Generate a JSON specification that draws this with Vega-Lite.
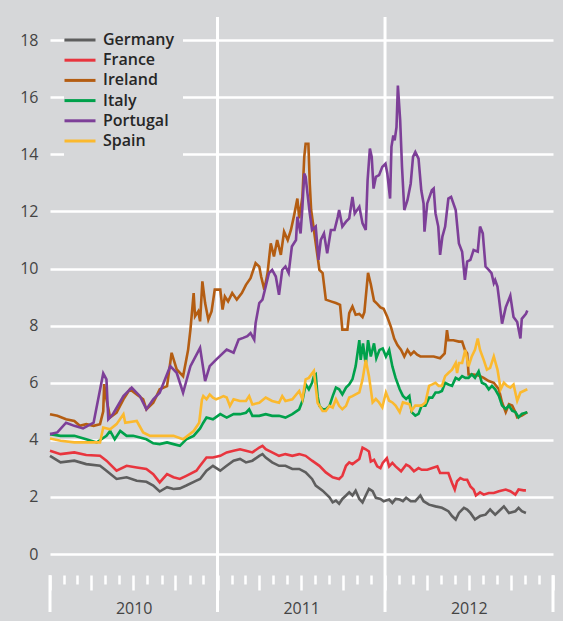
{
  "$schema": "https://vega.github.io/schema/vega-lite/v6.json",
  "width": 503,
  "height": 595,
  "autosize": {"type": "none"},
  "padding": {"left": 50, "top": 17, "right": 10, "bottom": 9},
  "background": "#d6d7d9",
  "config": {"view": {"stroke": null}, "font": "Open Sans"},
  "encoding": {
    "x": {
      "field": "date",
      "type": "temporal",
      "scale": {"type": "utc", "domain": [{"year": 2010, "month": 1, "date": 1, "utc": true}, {"year": 2013, "month": 1, "date": 1, "utc": true}]},
      "axis": {
        "orient": "bottom",
        "offset": -37,
        "domain": false,
        "grid": false,
        "tickCount": {"interval": "month", "step": 1},
        "tickColor": "white",
        "tickWidth": 2.5,
        "tickSize": {"condition": {"test": "utcmonth(datum.value) % 3 == 0", "value": 15}, "value": 9},
        "labelExpr": "utcmonth(datum.value) == 0 && utcyear(datum.value) < 2013 ? utcFormat(datum.value, '%Y') : ''",
        "labelOffset": 83.7,
        "labelAlign": "center",
        "labelBaseline": "top",
        "labelPadding": 10,
        "labelFontSize": 16,
        "labelColor": "#444444",
        "labelOverlap": false,
        "labelFlush": false,
        "labelBound": false,
        "title": null
      }
    }
  },
  "layer": [
    {
      "data": {"values": [{"date": "2011-01-01"}, {"date": "2012-01-01"}]},
      "mark": {"type": "rule", "color": "white", "strokeWidth": 3},
      "encoding": {}
    },
    {
      "data": {"values": [{"date": "2010-01-01"}, {"date": "2013-01-01"}]},
      "mark": {"type": "rule", "color": "white", "strokeWidth": 3},
      "encoding": {
        "y": {"datum": -0.74, "type": "quantitative"},
        "y2": {"datum": -2.03}
      }
    },
    {
      "data": {"values": [
{"country":"Germany","date":"2010-01-01","yield":3.44},{"country":"Germany","date":"2010-01-24","yield":3.21},{"country":"Germany","date":"2010-02-23","yield":3.27},{"country":"Germany","date":"2010-03-21","yield":3.15},{"country":"Germany","date":"2010-04-20","yield":3.09},{"country":"Germany","date":"2010-05-04","yield":2.92},{"country":"Germany","date":"2010-05-26","yield":2.63},{"country":"Germany","date":"2010-06-17","yield":2.69},{"country":"Germany","date":"2010-07-09","yield":2.57},{"country":"Germany","date":"2010-07-30","yield":2.53},{"country":"Germany","date":"2010-08-14","yield":2.40},{"country":"Germany","date":"2010-08-28","yield":2.19},{"country":"Germany","date":"2010-09-13","yield":2.34},{"country":"Germany","date":"2010-09-27","yield":2.28},{"country":"Germany","date":"2010-10-11","yield":2.30},{"country":"Germany","date":"2010-10-25","yield":2.40},{"country":"Germany","date":"2010-11-16","yield":2.57},{"country":"Germany","date":"2010-11-24","yield":2.63},{"country":"Germany","date":"2010-12-08","yield":2.92},{"country":"Germany","date":"2010-12-22","yield":3.09},{"country":"Germany","date":"2011-01-07","yield":2.92},{"country":"Germany","date":"2011-01-21","yield":3.09},{"country":"Germany","date":"2011-02-05","yield":3.27},{"country":"Germany","date":"2011-02-19","yield":3.33},{"country":"Germany","date":"2011-03-04","yield":3.21},{"country":"Germany","date":"2011-03-18","yield":3.27},{"country":"Germany","date":"2011-04-02","yield":3.44},{"country":"Germany","date":"2011-04-09","yield":3.50},{"country":"Germany","date":"2011-04-16","yield":3.38},{"country":"Germany","date":"2011-04-30","yield":3.21},{"country":"Germany","date":"2011-05-15","yield":3.09},{"country":"Germany","date":"2011-05-29","yield":3.09},{"country":"Germany","date":"2011-06-13","yield":2.98},{"country":"Germany","date":"2011-06-28","yield":2.98},{"country":"Germany","date":"2011-07-12","yield":2.86},{"country":"Germany","date":"2011-07-26","yield":2.63},{"country":"Germany","date":"2011-08-03","yield":2.40},{"country":"Germany","date":"2011-08-18","yield":2.22},{"country":"Germany","date":"2011-09-02","yield":1.99},{"country":"Germany","date":"2011-09-09","yield":1.81},{"country":"Germany","date":"2011-09-16","yield":1.87},{"country":"Germany","date":"2011-09-23","yield":1.76},{"country":"Germany","date":"2011-09-30","yield":1.93},{"country":"Germany","date":"2011-10-08","yield":2.05},{"country":"Germany","date":"2011-10-15","yield":2.16},{"country":"Germany","date":"2011-10-22","yield":2.05},{"country":"Germany","date":"2011-10-29","yield":2.22},{"country":"Germany","date":"2011-11-06","yield":1.93},{"country":"Germany","date":"2011-11-13","yield":1.81},{"country":"Germany","date":"2011-11-20","yield":2.05},{"country":"Germany","date":"2011-11-27","yield":2.28},{"country":"Germany","date":"2011-12-05","yield":2.20},{"country":"Germany","date":"2011-12-12","yield":1.97},{"country":"Germany","date":"2011-12-22","yield":1.93},{"country":"Germany","date":"2011-12-29","yield":1.85},{"country":"Germany","date":"2012-01-10","yield":1.91},{"country":"Germany","date":"2012-01-17","yield":1.79},{"country":"Germany","date":"2012-01-24","yield":1.93},{"country":"Germany","date":"2012-02-02","yield":1.91},{"country":"Germany","date":"2012-02-09","yield":1.85},{"country":"Germany","date":"2012-02-16","yield":1.97},{"country":"Germany","date":"2012-02-26","yield":1.85},{"country":"Germany","date":"2012-03-07","yield":1.85},{"country":"Germany","date":"2012-03-18","yield":2.05},{"country":"Germany","date":"2012-03-25","yield":1.85},{"country":"Germany","date":"2012-04-06","yield":1.73},{"country":"Germany","date":"2012-04-20","yield":1.67},{"country":"Germany","date":"2012-05-04","yield":1.62},{"country":"Germany","date":"2012-05-18","yield":1.50},{"country":"Germany","date":"2012-05-26","yield":1.33},{"country":"Germany","date":"2012-06-03","yield":1.21},{"country":"Germany","date":"2012-06-10","yield":1.44},{"country":"Germany","date":"2012-06-21","yield":1.62},{"country":"Germany","date":"2012-06-28","yield":1.56},{"country":"Germany","date":"2012-07-05","yield":1.44},{"country":"Germany","date":"2012-07-15","yield":1.21},{"country":"Germany","date":"2012-07-26","yield":1.33},{"country":"Germany","date":"2012-08-07","yield":1.38},{"country":"Germany","date":"2012-08-17","yield":1.56},{"country":"Germany","date":"2012-08-28","yield":1.38},{"country":"Germany","date":"2012-09-05","yield":1.50},{"country":"Germany","date":"2012-09-16","yield":1.67},{"country":"Germany","date":"2012-09-27","yield":1.44},{"country":"Germany","date":"2012-10-11","yield":1.50},{"country":"Germany","date":"2012-10-18","yield":1.62},{"country":"Germany","date":"2012-10-25","yield":1.50},{"country":"Germany","date":"2012-11-03","yield":1.44},
{"country":"France","date":"2010-01-01","yield":3.62},{"country":"France","date":"2010-01-24","yield":3.50},{"country":"France","date":"2010-02-23","yield":3.56},{"country":"France","date":"2010-03-21","yield":3.47},{"country":"France","date":"2010-04-20","yield":3.44},{"country":"France","date":"2010-05-04","yield":3.27},{"country":"France","date":"2010-05-26","yield":2.92},{"country":"France","date":"2010-06-17","yield":3.09},{"country":"France","date":"2010-07-09","yield":3.03},{"country":"France","date":"2010-07-30","yield":2.98},{"country":"France","date":"2010-08-14","yield":2.80},{"country":"France","date":"2010-08-28","yield":2.51},{"country":"France","date":"2010-09-13","yield":2.80},{"country":"France","date":"2010-09-27","yield":2.69},{"country":"France","date":"2010-10-11","yield":2.63},{"country":"France","date":"2010-10-25","yield":2.74},{"country":"France","date":"2010-11-16","yield":2.92},{"country":"France","date":"2010-11-24","yield":3.09},{"country":"France","date":"2010-12-08","yield":3.38},{"country":"France","date":"2010-12-22","yield":3.38},{"country":"France","date":"2011-01-07","yield":3.44},{"country":"France","date":"2011-01-21","yield":3.56},{"country":"France","date":"2011-02-05","yield":3.62},{"country":"France","date":"2011-02-19","yield":3.67},{"country":"France","date":"2011-03-04","yield":3.62},{"country":"France","date":"2011-03-18","yield":3.56},{"country":"France","date":"2011-04-02","yield":3.73},{"country":"France","date":"2011-04-09","yield":3.79},{"country":"France","date":"2011-04-16","yield":3.67},{"country":"France","date":"2011-04-30","yield":3.56},{"country":"France","date":"2011-05-15","yield":3.44},{"country":"France","date":"2011-05-29","yield":3.50},{"country":"France","date":"2011-06-13","yield":3.44},{"country":"France","date":"2011-06-28","yield":3.50},{"country":"France","date":"2011-07-12","yield":3.44},{"country":"France","date":"2011-07-26","yield":3.27},{"country":"France","date":"2011-08-11","yield":3.09},{"country":"France","date":"2011-08-25","yield":2.86},{"country":"France","date":"2011-09-09","yield":2.69},{"country":"France","date":"2011-09-23","yield":2.63},{"country":"France","date":"2011-09-30","yield":2.74},{"country":"France","date":"2011-10-08","yield":3.09},{"country":"France","date":"2011-10-15","yield":3.21},{"country":"France","date":"2011-10-22","yield":3.15},{"country":"France","date":"2011-11-06","yield":3.33},{"country":"France","date":"2011-11-13","yield":3.73},{"country":"France","date":"2011-11-20","yield":3.67},{"country":"France","date":"2011-11-27","yield":3.59},{"country":"France","date":"2011-12-01","yield":3.24},{"country":"France","date":"2011-12-08","yield":3.30},{"country":"France","date":"2011-12-15","yield":3.07},{"country":"France","date":"2011-12-22","yield":3.01},{"country":"France","date":"2011-12-27","yield":3.19},{"country":"France","date":"2012-01-05","yield":3.36},{"country":"France","date":"2012-01-10","yield":3.07},{"country":"France","date":"2012-01-17","yield":3.19},{"country":"France","date":"2012-01-24","yield":3.07},{"country":"France","date":"2012-02-05","yield":2.90},{"country":"France","date":"2012-02-16","yield":3.13},{"country":"France","date":"2012-02-23","yield":3.07},{"country":"France","date":"2012-03-04","yield":2.90},{"country":"France","date":"2012-03-14","yield":3.01},{"country":"France","date":"2012-03-21","yield":2.95},{"country":"France","date":"2012-04-02","yield":2.95},{"country":"France","date":"2012-04-13","yield":3.01},{"country":"France","date":"2012-04-24","yield":3.07},{"country":"France","date":"2012-04-30","yield":2.84},{"country":"France","date":"2012-05-11","yield":2.84},{"country":"France","date":"2012-05-18","yield":2.84},{"country":"France","date":"2012-05-26","yield":2.49},{"country":"France","date":"2012-06-01","yield":2.26},{"country":"France","date":"2012-06-06","yield":2.55},{"country":"France","date":"2012-06-13","yield":2.66},{"country":"France","date":"2012-06-21","yield":2.60},{"country":"France","date":"2012-06-28","yield":2.60},{"country":"France","date":"2012-07-05","yield":2.37},{"country":"France","date":"2012-07-12","yield":2.26},{"country":"France","date":"2012-07-17","yield":2.05},{"country":"France","date":"2012-07-26","yield":2.16},{"country":"France","date":"2012-08-03","yield":2.08},{"country":"France","date":"2012-08-14","yield":2.14},{"country":"France","date":"2012-08-25","yield":2.14},{"country":"France","date":"2012-09-05","yield":2.20},{"country":"France","date":"2012-09-20","yield":2.26},{"country":"France","date":"2012-09-30","yield":2.20},{"country":"France","date":"2012-10-11","yield":2.08},{"country":"France","date":"2012-10-18","yield":2.26},{"country":"France","date":"2012-10-29","yield":2.23},{"country":"France","date":"2012-11-03","yield":2.23},
{"country":"Ireland","date":"2010-01-01","yield":4.90},{"country":"Ireland","date":"2010-01-17","yield":4.84},{"country":"Ireland","date":"2010-02-05","yield":4.72},{"country":"Ireland","date":"2010-02-23","yield":4.66},{"country":"Ireland","date":"2010-03-07","yield":4.49},{"country":"Ireland","date":"2010-03-21","yield":4.55},{"country":"Ireland","date":"2010-04-06","yield":4.49},{"country":"Ireland","date":"2010-04-20","yield":4.55},{"country":"Ireland","date":"2010-04-27","yield":5.00},{"country":"Ireland","date":"2010-04-29","yield":5.95},{"country":"Ireland","date":"2010-05-04","yield":5.42},{"country":"Ireland","date":"2010-05-12","yield":4.78},{"country":"Ireland","date":"2010-05-26","yield":4.95},{"country":"Ireland","date":"2010-06-10","yield":5.42},{"country":"Ireland","date":"2010-06-24","yield":5.77},{"country":"Ireland","date":"2010-07-09","yield":5.59},{"country":"Ireland","date":"2010-07-23","yield":5.42},{"country":"Ireland","date":"2010-07-30","yield":5.07},{"country":"Ireland","date":"2010-08-14","yield":5.30},{"country":"Ireland","date":"2010-08-21","yield":5.53},{"country":"Ireland","date":"2010-08-28","yield":5.77},{"country":"Ireland","date":"2010-09-13","yield":5.88},{"country":"Ireland","date":"2010-09-23","yield":7.05},{"country":"Ireland","date":"2010-10-04","yield":6.47},{"country":"Ireland","date":"2010-10-18","yield":6.23},{"country":"Ireland","date":"2010-10-25","yield":6.81},{"country":"Ireland","date":"2010-10-29","yield":7.16},{"country":"Ireland","date":"2010-11-03","yield":7.86},{"country":"Ireland","date":"2010-11-10","yield":9.14},{"country":"Ireland","date":"2010-11-13","yield":8.33},{"country":"Ireland","date":"2010-11-20","yield":8.50},{"country":"Ireland","date":"2010-11-24","yield":8.15},{"country":"Ireland","date":"2010-11-29","yield":9.55},{"country":"Ireland","date":"2010-12-05","yield":8.79},{"country":"Ireland","date":"2010-12-12","yield":8.21},{"country":"Ireland","date":"2010-12-19","yield":8.50},{"country":"Ireland","date":"2010-12-26","yield":9.26},{"country":"Ireland","date":"2011-01-07","yield":9.26},{"country":"Ireland","date":"2011-01-12","yield":8.56},{"country":"Ireland","date":"2011-01-17","yield":9.02},{"country":"Ireland","date":"2011-01-24","yield":8.85},{"country":"Ireland","date":"2011-02-02","yield":9.14},{"country":"Ireland","date":"2011-02-12","yield":8.91},{"country":"Ireland","date":"2011-02-23","yield":9.14},{"country":"Ireland","date":"2011-03-04","yield":9.43},{"country":"Ireland","date":"2011-03-14","yield":9.66},{"country":"Ireland","date":"2011-03-25","yield":10.19},{"country":"Ireland","date":"2011-04-02","yield":10.07},{"country":"Ireland","date":"2011-04-06","yield":9.72},{"country":"Ireland","date":"2011-04-13","yield":9.26},{"country":"Ireland","date":"2011-04-20","yield":9.84},{"country":"Ireland","date":"2011-04-27","yield":10.88},{"country":"Ireland","date":"2011-05-04","yield":10.42},{"country":"Ireland","date":"2011-05-11","yield":11.00},{"country":"Ireland","date":"2011-05-19","yield":10.48},{"country":"Ireland","date":"2011-05-26","yield":11.29},{"country":"Ireland","date":"2011-06-03","yield":11.00},{"country":"Ireland","date":"2011-06-10","yield":11.35},{"country":"Ireland","date":"2011-06-17","yield":11.87},{"country":"Ireland","date":"2011-06-24","yield":12.45},{"country":"Ireland","date":"2011-06-28","yield":11.76},{"country":"Ireland","date":"2011-07-05","yield":12.51},{"country":"Ireland","date":"2011-07-09","yield":13.91},{"country":"Ireland","date":"2011-07-12","yield":14.37},{"country":"Ireland","date":"2011-07-18","yield":14.37},{"country":"Ireland","date":"2011-07-21","yield":12.98},{"country":"Ireland","date":"2011-07-24","yield":12.05},{"country":"Ireland","date":"2011-07-30","yield":11.35},{"country":"Ireland","date":"2011-08-07","yield":10.42},{"country":"Ireland","date":"2011-08-11","yield":9.95},{"country":"Ireland","date":"2011-08-18","yield":9.84},{"country":"Ireland","date":"2011-08-25","yield":8.91},{"country":"Ireland","date":"2011-09-05","yield":8.85},{"country":"Ireland","date":"2011-09-16","yield":8.79},{"country":"Ireland","date":"2011-09-25","yield":8.73},{"country":"Ireland","date":"2011-09-30","yield":7.86},{"country":"Ireland","date":"2011-10-11","yield":7.86},{"country":"Ireland","date":"2011-10-15","yield":8.44},{"country":"Ireland","date":"2011-10-22","yield":8.67},{"country":"Ireland","date":"2011-10-29","yield":8.38},{"country":"Ireland","date":"2011-11-06","yield":8.41},{"country":"Ireland","date":"2011-11-13","yield":8.30},{"country":"Ireland","date":"2011-11-17","yield":8.47},{"country":"Ireland","date":"2011-11-20","yield":8.99},{"country":"Ireland","date":"2011-11-25","yield":9.85},{"country":"Ireland","date":"2011-12-01","yield":9.45},{"country":"Ireland","date":"2011-12-08","yield":8.87},{"country":"Ireland","date":"2011-12-15","yield":8.76},{"country":"Ireland","date":"2011-12-22","yield":8.64},{"country":"Ireland","date":"2011-12-29","yield":8.59},{"country":"Ireland","date":"2012-01-06","yield":8.30},{"country":"Ireland","date":"2012-01-14","yield":7.95},{"country":"Ireland","date":"2012-01-21","yield":7.55},{"country":"Ireland","date":"2012-01-28","yield":7.32},{"country":"Ireland","date":"2012-02-05","yield":7.15},{"country":"Ireland","date":"2012-02-12","yield":6.92},{"country":"Ireland","date":"2012-02-19","yield":7.15},{"country":"Ireland","date":"2012-02-26","yield":6.98},{"country":"Ireland","date":"2012-03-04","yield":7.09},{"country":"Ireland","date":"2012-03-11","yield":6.98},{"country":"Ireland","date":"2012-03-18","yield":6.92},{"country":"Ireland","date":"2012-03-25","yield":6.92},{"country":"Ireland","date":"2012-04-06","yield":6.92},{"country":"Ireland","date":"2012-04-16","yield":6.92},{"country":"Ireland","date":"2012-04-30","yield":6.86},{"country":"Ireland","date":"2012-05-10","yield":7.03},{"country":"Ireland","date":"2012-05-15","yield":7.84},{"country":"Ireland","date":"2012-05-18","yield":7.49},{"country":"Ireland","date":"2012-05-29","yield":7.49},{"country":"Ireland","date":"2012-06-10","yield":7.44},{"country":"Ireland","date":"2012-06-17","yield":7.44},{"country":"Ireland","date":"2012-06-23","yield":7.15},{"country":"Ireland","date":"2012-06-28","yield":7.03},{"country":"Ireland","date":"2012-07-01","yield":6.29},{"country":"Ireland","date":"2012-07-12","yield":6.29},{"country":"Ireland","date":"2012-07-23","yield":6.25},{"country":"Ireland","date":"2012-08-03","yield":6.17},{"country":"Ireland","date":"2012-08-14","yield":6.06},{"country":"Ireland","date":"2012-08-25","yield":6.00},{"country":"Ireland","date":"2012-09-05","yield":5.77},{"country":"Ireland","date":"2012-09-12","yield":5.31},{"country":"Ireland","date":"2012-09-20","yield":4.97},{"country":"Ireland","date":"2012-09-27","yield":5.25},{"country":"Ireland","date":"2012-10-04","yield":5.20},{"country":"Ireland","date":"2012-10-11","yield":4.97},{"country":"Ireland","date":"2012-10-15","yield":4.79},{"country":"Ireland","date":"2012-10-25","yield":4.85},{"country":"Ireland","date":"2012-11-06","yield":4.97},
{"country":"Italy","date":"2010-01-01","yield":4.20},{"country":"Italy","date":"2010-01-24","yield":4.14},{"country":"Italy","date":"2010-02-23","yield":4.14},{"country":"Italy","date":"2010-03-21","yield":4.02},{"country":"Italy","date":"2010-04-13","yield":3.91},{"country":"Italy","date":"2010-04-23","yield":4.02},{"country":"Italy","date":"2010-05-04","yield":4.14},{"country":"Italy","date":"2010-05-12","yield":4.31},{"country":"Italy","date":"2010-05-22","yield":4.02},{"country":"Italy","date":"2010-06-03","yield":4.31},{"country":"Italy","date":"2010-06-17","yield":4.14},{"country":"Italy","date":"2010-07-01","yield":4.14},{"country":"Italy","date":"2010-07-16","yield":4.08},{"country":"Italy","date":"2010-07-30","yield":4.02},{"country":"Italy","date":"2010-08-14","yield":3.88},{"country":"Italy","date":"2010-08-28","yield":3.85},{"country":"Italy","date":"2010-09-13","yield":3.91},{"country":"Italy","date":"2010-09-27","yield":3.85},{"country":"Italy","date":"2010-10-11","yield":3.79},{"country":"Italy","date":"2010-10-25","yield":4.02},{"country":"Italy","date":"2010-11-10","yield":4.14},{"country":"Italy","date":"2010-11-24","yield":4.40},{"country":"Italy","date":"2010-12-01","yield":4.60},{"country":"Italy","date":"2010-12-08","yield":4.78},{"country":"Italy","date":"2010-12-22","yield":4.72},{"country":"Italy","date":"2011-01-07","yield":4.90},{"country":"Italy","date":"2011-01-21","yield":4.78},{"country":"Italy","date":"2011-02-05","yield":4.90},{"country":"Italy","date":"2011-02-19","yield":4.90},{"country":"Italy","date":"2011-03-04","yield":4.95},{"country":"Italy","date":"2011-03-11","yield":5.07},{"country":"Italy","date":"2011-03-18","yield":4.84},{"country":"Italy","date":"2011-04-02","yield":4.84},{"country":"Italy","date":"2011-04-16","yield":4.90},{"country":"Italy","date":"2011-04-30","yield":4.84},{"country":"Italy","date":"2011-05-15","yield":4.84},{"country":"Italy","date":"2011-05-29","yield":4.78},{"country":"Italy","date":"2011-06-13","yield":4.90},{"country":"Italy","date":"2011-06-28","yield":5.07},{"country":"Italy","date":"2011-07-05","yield":5.36},{"country":"Italy","date":"2011-07-12","yield":5.94},{"country":"Italy","date":"2011-07-19","yield":5.77},{"country":"Italy","date":"2011-07-26","yield":6.00},{"country":"Italy","date":"2011-07-30","yield":6.23},{"country":"Italy","date":"2011-08-03","yield":6.29},{"country":"Italy","date":"2011-08-07","yield":5.53},{"country":"Italy","date":"2011-08-11","yield":5.19},{"country":"Italy","date":"2011-08-18","yield":5.07},{"country":"Italy","date":"2011-08-25","yield":5.07},{"country":"Italy","date":"2011-09-02","yield":5.19},{"country":"Italy","date":"2011-09-09","yield":5.53},{"country":"Italy","date":"2011-09-16","yield":5.83},{"country":"Italy","date":"2011-09-23","yield":5.77},{"country":"Italy","date":"2011-09-30","yield":5.59},{"country":"Italy","date":"2011-10-08","yield":5.83},{"country":"Italy","date":"2011-10-15","yield":5.94},{"country":"Italy","date":"2011-10-22","yield":6.12},{"country":"Italy","date":"2011-10-29","yield":6.58},{"country":"Italy","date":"2011-11-06","yield":7.49},{"country":"Italy","date":"2011-11-09","yield":6.80},{"country":"Italy","date":"2011-11-14","yield":7.38},{"country":"Italy","date":"2011-11-20","yield":6.63},{"country":"Italy","date":"2011-11-25","yield":7.49},{"country":"Italy","date":"2011-12-01","yield":6.92},{"country":"Italy","date":"2011-12-08","yield":7.38},{"country":"Italy","date":"2011-12-13","yield":6.86},{"country":"Italy","date":"2011-12-20","yield":7.15},{"country":"Italy","date":"2011-12-27","yield":7.20},{"country":"Italy","date":"2012-01-03","yield":6.92},{"country":"Italy","date":"2012-01-10","yield":7.15},{"country":"Italy","date":"2012-01-17","yield":6.57},{"country":"Italy","date":"2012-01-24","yield":6.17},{"country":"Italy","date":"2012-02-02","yield":5.77},{"country":"Italy","date":"2012-02-09","yield":5.54},{"country":"Italy","date":"2012-02-16","yield":5.43},{"country":"Italy","date":"2012-02-23","yield":5.54},{"country":"Italy","date":"2012-02-28","yield":4.97},{"country":"Italy","date":"2012-03-07","yield":4.85},{"country":"Italy","date":"2012-03-14","yield":4.91},{"country":"Italy","date":"2012-03-21","yield":5.20},{"country":"Italy","date":"2012-03-29","yield":5.20},{"country":"Italy","date":"2012-04-06","yield":5.48},{"country":"Italy","date":"2012-04-13","yield":5.48},{"country":"Italy","date":"2012-04-20","yield":5.66},{"country":"Italy","date":"2012-04-27","yield":5.66},{"country":"Italy","date":"2012-05-04","yield":5.71},{"country":"Italy","date":"2012-05-11","yield":6.00},{"country":"Italy","date":"2012-05-18","yield":5.94},{"country":"Italy","date":"2012-05-26","yield":5.89},{"country":"Italy","date":"2012-06-03","yield":6.17},{"country":"Italy","date":"2012-06-10","yield":6.11},{"country":"Italy","date":"2012-06-17","yield":6.23},{"country":"Italy","date":"2012-06-24","yield":6.17},{"country":"Italy","date":"2012-07-01","yield":6.17},{"country":"Italy","date":"2012-07-08","yield":6.29},{"country":"Italy","date":"2012-07-15","yield":6.17},{"country":"Italy","date":"2012-07-23","yield":6.40},{"country":"Italy","date":"2012-07-30","yield":6.00},{"country":"Italy","date":"2012-08-07","yield":5.94},{"country":"Italy","date":"2012-08-14","yield":5.77},{"country":"Italy","date":"2012-08-21","yield":5.89},{"country":"Italy","date":"2012-08-28","yield":5.77},{"country":"Italy","date":"2012-09-05","yield":5.54},{"country":"Italy","date":"2012-09-12","yield":5.20},{"country":"Italy","date":"2012-09-20","yield":5.08},{"country":"Italy","date":"2012-09-27","yield":5.20},{"country":"Italy","date":"2012-10-04","yield":5.02},{"country":"Italy","date":"2012-10-11","yield":4.97},{"country":"Italy","date":"2012-10-18","yield":4.79},{"country":"Italy","date":"2012-10-25","yield":4.91},{"country":"Italy","date":"2012-11-06","yield":4.97},
{"country":"Portugal","date":"2010-01-01","yield":4.20},{"country":"Portugal","date":"2010-01-17","yield":4.26},{"country":"Portugal","date":"2010-02-05","yield":4.60},{"country":"Portugal","date":"2010-02-23","yield":4.49},{"country":"Portugal","date":"2010-03-14","yield":4.40},{"country":"Portugal","date":"2010-04-06","yield":4.60},{"country":"Portugal","date":"2010-04-27","yield":6.33},{"country":"Portugal","date":"2010-05-04","yield":6.12},{"country":"Portugal","date":"2010-05-08","yield":4.72},{"country":"Portugal","date":"2010-05-18","yield":4.90},{"country":"Portugal","date":"2010-06-10","yield":5.53},{"country":"Portugal","date":"2010-06-28","yield":5.83},{"country":"Portugal","date":"2010-07-16","yield":5.53},{"country":"Portugal","date":"2010-07-30","yield":5.07},{"country":"Portugal","date":"2010-08-14","yield":5.42},{"country":"Portugal","date":"2010-08-28","yield":5.65},{"country":"Portugal","date":"2010-09-20","yield":6.58},{"country":"Portugal","date":"2010-10-04","yield":6.35},{"country":"Portugal","date":"2010-10-18","yield":5.65},{"country":"Portugal","date":"2010-11-03","yield":6.58},{"country":"Portugal","date":"2010-11-24","yield":7.22},{"country":"Portugal","date":"2010-12-05","yield":6.06},{"country":"Portugal","date":"2010-12-15","yield":6.58},{"country":"Portugal","date":"2010-12-29","yield":6.81},{"country":"Portugal","date":"2011-01-21","yield":7.16},{"country":"Portugal","date":"2011-02-05","yield":7.05},{"country":"Portugal","date":"2011-02-16","yield":7.51},{"country":"Portugal","date":"2011-02-26","yield":7.57},{"country":"Portugal","date":"2011-03-07","yield":7.63},{"country":"Portugal","date":"2011-03-14","yield":7.74},{"country":"Portugal","date":"2011-03-22","yield":7.51},{"country":"Portugal","date":"2011-03-25","yield":8.09},{"country":"Portugal","date":"2011-04-02","yield":8.79},{"country":"Portugal","date":"2011-04-09","yield":8.91},{"country":"Portugal","date":"2011-04-16","yield":9.37},{"country":"Portugal","date":"2011-04-23","yield":9.84},{"country":"Portugal","date":"2011-04-30","yield":9.95},{"country":"Portugal","date":"2011-05-08","yield":9.72},{"country":"Portugal","date":"2011-05-15","yield":9.08},{"country":"Portugal","date":"2011-05-22","yield":9.95},{"country":"Portugal","date":"2011-05-29","yield":10.07},{"country":"Portugal","date":"2011-06-05","yield":9.84},{"country":"Portugal","date":"2011-06-12","yield":10.77},{"country":"Portugal","date":"2011-06-21","yield":11.00},{"country":"Portugal","date":"2011-06-24","yield":11.81},{"country":"Portugal","date":"2011-06-28","yield":11.47},{"country":"Portugal","date":"2011-07-01","yield":11.23},{"country":"Portugal","date":"2011-07-05","yield":12.16},{"country":"Portugal","date":"2011-07-09","yield":13.33},{"country":"Portugal","date":"2011-07-12","yield":13.21},{"country":"Portugal","date":"2011-07-16","yield":12.63},{"country":"Portugal","date":"2011-07-21","yield":11.93},{"country":"Portugal","date":"2011-07-26","yield":11.35},{"country":"Portugal","date":"2011-08-03","yield":11.47},{"country":"Portugal","date":"2011-08-09","yield":10.30},{"country":"Portugal","date":"2011-08-14","yield":11.00},{"country":"Portugal","date":"2011-08-21","yield":11.23},{"country":"Portugal","date":"2011-08-28","yield":10.53},{"country":"Portugal","date":"2011-09-05","yield":11.35},{"country":"Portugal","date":"2011-09-13","yield":11.35},{"country":"Portugal","date":"2011-09-20","yield":11.81},{"country":"Portugal","date":"2011-09-23","yield":12.05},{"country":"Portugal","date":"2011-09-30","yield":11.47},{"country":"Portugal","date":"2011-10-08","yield":11.64},{"country":"Portugal","date":"2011-10-15","yield":11.76},{"country":"Portugal","date":"2011-10-22","yield":12.51},{"country":"Portugal","date":"2011-10-27","yield":11.93},{"country":"Portugal","date":"2011-11-06","yield":12.16},{"country":"Portugal","date":"2011-11-13","yield":11.58},{"country":"Portugal","date":"2011-11-20","yield":11.35},{"country":"Portugal","date":"2011-11-24","yield":13.09},{"country":"Portugal","date":"2011-11-29","yield":14.20},{"country":"Portugal","date":"2011-12-03","yield":13.91},{"country":"Portugal","date":"2011-12-07","yield":12.80},{"country":"Portugal","date":"2011-12-12","yield":13.21},{"country":"Portugal","date":"2011-12-19","yield":13.27},{"country":"Portugal","date":"2011-12-26","yield":13.56},{"country":"Portugal","date":"2012-01-02","yield":13.67},{"country":"Portugal","date":"2012-01-06","yield":13.33},{"country":"Portugal","date":"2012-01-12","yield":12.45},{"country":"Portugal","date":"2012-01-15","yield":14.26},{"country":"Portugal","date":"2012-01-19","yield":14.66},{"country":"Portugal","date":"2012-01-22","yield":14.49},{"country":"Portugal","date":"2012-01-26","yield":14.95},{"country":"Portugal","date":"2012-01-29","yield":16.41},{"country":"Portugal","date":"2012-02-03","yield":15.19},{"country":"Portugal","date":"2012-02-07","yield":13.56},{"country":"Portugal","date":"2012-02-12","yield":12.05},{"country":"Portugal","date":"2012-02-19","yield":12.40},{"country":"Portugal","date":"2012-02-26","yield":12.98},{"country":"Portugal","date":"2012-03-02","yield":13.91},{"country":"Portugal","date":"2012-03-07","yield":14.08},{"country":"Portugal","date":"2012-03-14","yield":13.85},{"country":"Portugal","date":"2012-03-20","yield":12.74},{"country":"Portugal","date":"2012-03-25","yield":12.28},{"country":"Portugal","date":"2012-03-27","yield":11.29},{"country":"Portugal","date":"2012-04-02","yield":12.28},{"country":"Portugal","date":"2012-04-12","yield":12.74},{"country":"Portugal","date":"2012-04-16","yield":12.80},{"country":"Portugal","date":"2012-04-20","yield":11.93},{"country":"Portugal","date":"2012-04-26","yield":11.47},{"country":"Portugal","date":"2012-04-30","yield":10.48},{"country":"Portugal","date":"2012-05-05","yield":11.12},{"country":"Portugal","date":"2012-05-11","yield":11.47},{"country":"Portugal","date":"2012-05-18","yield":12.45},{"country":"Portugal","date":"2012-05-24","yield":12.51},{"country":"Portugal","date":"2012-06-03","yield":12.05},{"country":"Portugal","date":"2012-06-10","yield":10.88},{"country":"Portugal","date":"2012-06-17","yield":10.59},{"country":"Portugal","date":"2012-06-23","yield":9.60},{"country":"Portugal","date":"2012-06-28","yield":10.24},{"country":"Portugal","date":"2012-07-05","yield":10.30},{"country":"Portugal","date":"2012-07-12","yield":10.65},{"country":"Portugal","date":"2012-07-21","yield":10.59},{"country":"Portugal","date":"2012-07-26","yield":11.47},{"country":"Portugal","date":"2012-08-01","yield":11.23},{"country":"Portugal","date":"2012-08-07","yield":10.07},{"country":"Portugal","date":"2012-08-14","yield":9.95},{"country":"Portugal","date":"2012-08-20","yield":9.84},{"country":"Portugal","date":"2012-08-25","yield":9.49},{"country":"Portugal","date":"2012-08-28","yield":9.60},{"country":"Portugal","date":"2012-09-02","yield":9.37},{"country":"Portugal","date":"2012-09-05","yield":8.99},{"country":"Portugal","date":"2012-09-12","yield":8.07},{"country":"Portugal","date":"2012-09-20","yield":8.64},{"country":"Portugal","date":"2012-09-30","yield":9.05},{"country":"Portugal","date":"2012-10-07","yield":8.30},{"country":"Portugal","date":"2012-10-15","yield":8.13},{"country":"Portugal","date":"2012-10-22","yield":7.55},{"country":"Portugal","date":"2012-10-25","yield":8.24},{"country":"Portugal","date":"2012-11-03","yield":8.41},{"country":"Portugal","date":"2012-11-06","yield":8.53},
{"country":"Spain","date":"2010-01-01","yield":4.05},{"country":"Spain","date":"2010-01-24","yield":3.97},{"country":"Spain","date":"2010-02-23","yield":3.91},{"country":"Spain","date":"2010-03-21","yield":3.91},{"country":"Spain","date":"2010-04-20","yield":3.91},{"country":"Spain","date":"2010-04-27","yield":4.43},{"country":"Spain","date":"2010-05-12","yield":4.37},{"country":"Spain","date":"2010-05-26","yield":4.55},{"country":"Spain","date":"2010-06-10","yield":4.90},{"country":"Spain","date":"2010-06-14","yield":4.60},{"country":"Spain","date":"2010-07-09","yield":4.66},{"country":"Spain","date":"2010-07-23","yield":4.26},{"country":"Spain","date":"2010-08-07","yield":4.14},{"country":"Spain","date":"2010-08-28","yield":4.14},{"country":"Spain","date":"2010-09-27","yield":4.14},{"country":"Spain","date":"2010-10-18","yield":4.02},{"country":"Spain","date":"2010-11-10","yield":4.31},{"country":"Spain","date":"2010-11-22","yield":4.60},{"country":"Spain","date":"2010-11-28","yield":5.40},{"country":"Spain","date":"2010-12-01","yield":5.53},{"country":"Spain","date":"2010-12-08","yield":5.42},{"country":"Spain","date":"2010-12-15","yield":5.59},{"country":"Spain","date":"2010-12-22","yield":5.48},{"country":"Spain","date":"2010-12-29","yield":5.42},{"country":"Spain","date":"2011-01-07","yield":5.48},{"country":"Spain","date":"2011-01-14","yield":5.53},{"country":"Spain","date":"2011-01-21","yield":5.48},{"country":"Spain","date":"2011-01-28","yield":5.19},{"country":"Spain","date":"2011-02-05","yield":5.42},{"country":"Spain","date":"2011-02-19","yield":5.36},{"country":"Spain","date":"2011-03-04","yield":5.36},{"country":"Spain","date":"2011-03-11","yield":5.53},{"country":"Spain","date":"2011-03-18","yield":5.24},{"country":"Spain","date":"2011-04-02","yield":5.30},{"country":"Spain","date":"2011-04-16","yield":5.48},{"country":"Spain","date":"2011-04-30","yield":5.36},{"country":"Spain","date":"2011-05-15","yield":5.30},{"country":"Spain","date":"2011-05-22","yield":5.53},{"country":"Spain","date":"2011-05-29","yield":5.36},{"country":"Spain","date":"2011-06-13","yield":5.42},{"country":"Spain","date":"2011-06-28","yield":5.71},{"country":"Spain","date":"2011-07-05","yield":5.42},{"country":"Spain","date":"2011-07-12","yield":6.12},{"country":"Spain","date":"2011-07-19","yield":6.17},{"country":"Spain","date":"2011-07-30","yield":6.41},{"country":"Spain","date":"2011-08-07","yield":5.30},{"country":"Spain","date":"2011-08-18","yield":5.01},{"country":"Spain","date":"2011-08-25","yield":5.01},{"country":"Spain","date":"2011-09-02","yield":5.19},{"country":"Spain","date":"2011-09-09","yield":5.13},{"country":"Spain","date":"2011-09-16","yield":5.42},{"country":"Spain","date":"2011-09-23","yield":5.19},{"country":"Spain","date":"2011-09-30","yield":5.07},{"country":"Spain","date":"2011-10-08","yield":5.19},{"country":"Spain","date":"2011-10-15","yield":5.48},{"country":"Spain","date":"2011-10-22","yield":5.53},{"country":"Spain","date":"2011-10-29","yield":5.59},{"country":"Spain","date":"2011-11-06","yield":5.66},{"country":"Spain","date":"2011-11-13","yield":6.11},{"country":"Spain","date":"2011-11-20","yield":6.80},{"country":"Spain","date":"2011-11-27","yield":6.23},{"country":"Spain","date":"2011-12-05","yield":5.31},{"country":"Spain","date":"2011-12-12","yield":5.43},{"country":"Spain","date":"2011-12-19","yield":5.31},{"country":"Spain","date":"2011-12-26","yield":5.14},{"country":"Spain","date":"2012-01-03","yield":5.66},{"country":"Spain","date":"2012-01-10","yield":5.37},{"country":"Spain","date":"2012-01-17","yield":5.31},{"country":"Spain","date":"2012-01-24","yield":5.20},{"country":"Spain","date":"2012-02-02","yield":4.97},{"country":"Spain","date":"2012-02-09","yield":5.31},{"country":"Spain","date":"2012-02-23","yield":5.25},{"country":"Spain","date":"2012-02-28","yield":5.02},{"country":"Spain","date":"2012-03-07","yield":5.20},{"country":"Spain","date":"2012-03-14","yield":5.20},{"country":"Spain","date":"2012-03-21","yield":5.20},{"country":"Spain","date":"2012-03-29","yield":5.31},{"country":"Spain","date":"2012-04-06","yield":5.89},{"country":"Spain","date":"2012-04-13","yield":5.94},{"country":"Spain","date":"2012-04-20","yield":6.00},{"country":"Spain","date":"2012-04-27","yield":5.89},{"country":"Spain","date":"2012-05-04","yield":5.89},{"country":"Spain","date":"2012-05-11","yield":6.23},{"country":"Spain","date":"2012-05-18","yield":6.34},{"country":"Spain","date":"2012-05-26","yield":6.46},{"country":"Spain","date":"2012-06-03","yield":6.69},{"country":"Spain","date":"2012-06-06","yield":6.34},{"country":"Spain","date":"2012-06-10","yield":6.69},{"country":"Spain","date":"2012-06-17","yield":6.69},{"country":"Spain","date":"2012-06-24","yield":7.15},{"country":"Spain","date":"2012-07-01","yield":6.57},{"country":"Spain","date":"2012-07-08","yield":6.92},{"country":"Spain","date":"2012-07-15","yield":7.15},{"country":"Spain","date":"2012-07-21","yield":7.55},{"country":"Spain","date":"2012-07-26","yield":7.15},{"country":"Spain","date":"2012-08-03","yield":6.80},{"country":"Spain","date":"2012-08-10","yield":6.46},{"country":"Spain","date":"2012-08-17","yield":6.52},{"country":"Spain","date":"2012-08-25","yield":6.92},{"country":"Spain","date":"2012-09-02","yield":6.46},{"country":"Spain","date":"2012-09-09","yield":5.77},{"country":"Spain","date":"2012-09-16","yield":6.00},{"country":"Spain","date":"2012-09-23","yield":5.89},{"country":"Spain","date":"2012-09-30","yield":5.83},{"country":"Spain","date":"2012-10-07","yield":5.94},{"country":"Spain","date":"2012-10-15","yield":5.37},{"country":"Spain","date":"2012-10-22","yield":5.66},{"country":"Spain","date":"2012-10-29","yield":5.71},{"country":"Spain","date":"2012-11-06","yield":5.77}
      ]},
      "mark": {"type": "line", "strokeWidth": 2.6},
      "encoding": {
        "y": {
          "field": "yield",
          "type": "quantitative",
          "scale": {"domain": [-2.03, 18.81], "nice": false, "zero": false},
          "axis": {
            "values": [0, 2, 4, 6, 8, 10, 12, 14, 16, 18],
            "grid": true,
            "gridColor": "white",
            "gridWidth": 2.5,
            "ticks": false,
            "domain": false,
            "labelPadding": 12,
            "labelFontSize": 16,
            "labelColor": "#444444",
            "title": null
          }
        },
        "color": {
          "field": "country",
          "type": "nominal",
          "scale": {
            "domain": ["Germany", "France", "Ireland", "Italy", "Portugal", "Spain"],
            "range": ["#5e5e5e", "#e8353e", "#b45d12", "#00a14b", "#7d3f98", "#fbb92e"]
          },
          "legend": {
            "orient": "none",
            "legendX": 14,
            "legendY": 7,
            "title": null,
            "symbolType": "M-3.1,0H3.1",
            "symbolSize": 100,
            "symbolStrokeWidth": 3,
            "labelFontSize": 16,
            "labelColor": "#262626",
            "labelFontWeight": 600,
            "labelOffset": 15,
            "fillColor": "#d6d7d9",
            "padding": 8,
            "rowPadding": 4.2,
            "labelLimit": 200
          }
        }
      }
    }
  ]
}
